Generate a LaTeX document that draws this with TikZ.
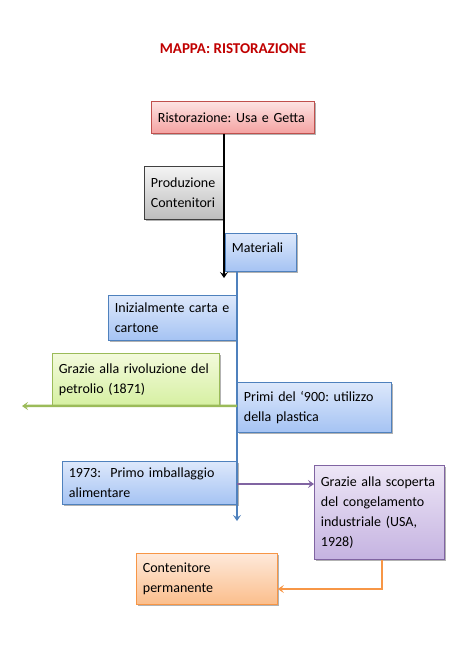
\documentclass[tikz,border=0pt]{standalone}
\usepackage{fontspec}
\setmainfont{Carlito}
\frenchspacing
\usetikzlibrary{arrows.meta,shadows}
\definecolor{titlered}{HTML}{C00000}
\definecolor{pinkT}{HTML}{FDE3E2}
\definecolor{pinkB}{HTML}{F4A2A1}
\definecolor{pinkD}{HTML}{C0504D}
\definecolor{greyT}{HTML}{F4F4F4}
\definecolor{greyB}{HTML}{BDBDBD}
\definecolor{greyD}{HTML}{404040}
\definecolor{blueT}{HTML}{DDE8FB}
\definecolor{blueB}{HTML}{A5C3F3}
\definecolor{blueD}{HTML}{4F81BD}
\definecolor{greenT}{HTML}{F3FADC}
\definecolor{greenB}{HTML}{D6F0A2}
\definecolor{greenD}{HTML}{9BBB59}
\definecolor{purpT}{HTML}{EDE6F6}
\definecolor{purpB}{HTML}{C5B3E1}
\definecolor{purpD}{HTML}{8064A2}
\definecolor{orT}{HTML}{FEE9DA}
\definecolor{orB}{HTML}{FBBE8C}
\definecolor{orD}{HTML}{F79646}
\tikzset{
  box/.style={draw, line width=0.8pt, anchor=north west, inner xsep=6pt, inner ysep=2pt,
    align=left, font=\fontsize{14}{20}\selectfont,
    drop shadow={shadow xshift=1.2pt, shadow yshift=-1.5pt, opacity=0.3, fill=black}},
  pinkbox/.style={box, draw=pinkD, top color=pinkT, bottom color=pinkB},
  greybox/.style={box, draw=greyD, top color=greyT, bottom color=greyB},
  bluebox/.style={box, draw=blueD, top color=blueT, bottom color=blueB},
  greenbox/.style={box, draw=greenD, top color=greenT, bottom color=greenB},
  purpbox/.style={box, draw=purpD, top color=purpT, bottom color=purpB},
  orbox/.style={box, draw=orD, top color=orT, bottom color=orB},
  conn/.style={-{Stealth[length=6pt,width=8pt,inset=2.5pt]}},
}
\begin{document}
\begin{tikzpicture}[x=1pt,y=-1pt]
\useasboundingbox (0,0) rectangle (467,653);
\node[font=\fontsize{15}{17}\selectfont\bfseries, text=titlered] (title) at (233,49) {MAPPA: RISTORAZIONE};

\node[pinkbox, minimum width=163pt, minimum height=32pt, text width=150pt] (ris) at (151,101) {Ristorazione: Usa e Getta};
\node[greybox, minimum width=79pt, minimum height=53pt, text width=66pt] (prod) at (144,166) {Produzione\\Contenitori};
\node[bluebox, minimum width=71pt, minimum height=38pt, text width=58pt] (mat) at (225,233) {Materiali\rule[-10pt]{0pt}{1pt}};
\node[bluebox, minimum width=128pt, minimum height=45pt, text width=115pt] (iniz) at (108,295) {Inizialmente carta e\\cartone};
\node[greenbox, minimum width=167pt, minimum height=52pt, text width=154pt] (grz) at (52,353) {Grazie alla rivoluzione del\\petrolio (1871)\\[-6pt]};
\node[bluebox, minimum width=154pt, minimum height=50pt, text width=141pt] (prim) at (237,382) {Primi del ‘900: utilizzo\\della plastica\\[-6pt]};
\node[bluebox, minimum width=175pt, minimum height=43pt, text width=162pt] (alim) at (62,461) {1973:\ \ Primo imballaggio\\alimentare};
\node[purpbox, minimum width=130pt, minimum height=94pt, text width=117pt] (cong) at (314,465) {Grazie alla scoperta\\del congelamento\\industriale (USA,\\1928)\\[-6pt]};
\node[orbox, minimum width=141pt, minimum height=51pt, text width=128pt] (perm) at (136,553) {Contenitore\\permanente};

\coordinate (blackend) at (224,278);
\coordinate (blueend) at (237,521);
\coordinate (greenend) at (22,406);
\coordinate (purpstart) at (237,484);
\coordinate (orbend) at (382,589);

\draw[conn, draw=black, line width=2.8pt] (ris.south -| blackend) -- (blackend);
\draw[conn, draw=blueD, line width=2pt] (mat.south -| blueend) -- (blueend);
\draw[conn, draw=greenD, line width=2.5pt] (grz.south -| prim.west) -- (greenend);
\draw[conn, draw=purpD, line width=2pt] (purpstart) -- (purpstart -| cong.west);
\draw[conn, draw=orD, line width=2.5pt] (cong.south -| orbend) -- (orbend) -- (orbend -| perm.east);
\end{tikzpicture}
\end{document}
